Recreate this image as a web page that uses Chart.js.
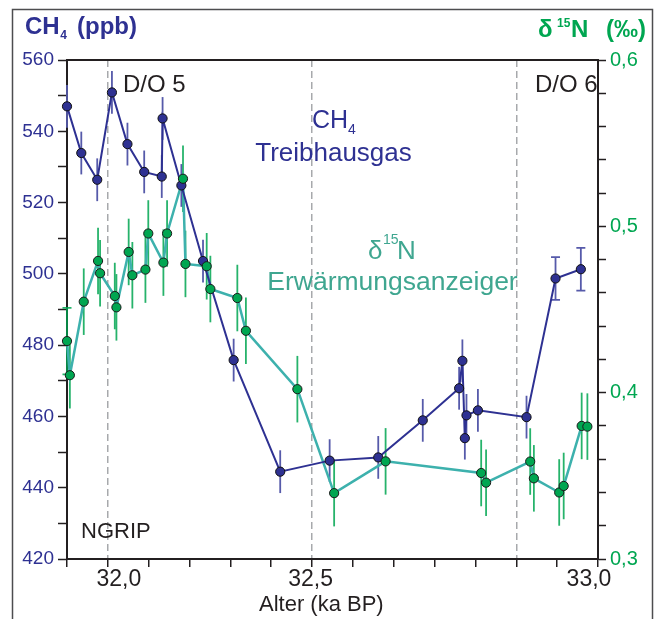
<!DOCTYPE html>
<html><head><meta charset="utf-8">
<script src="https://cdn.jsdelivr.net/npm/chart.js@4/dist/chart.umd.min.js"></script>
<style>html,body{margin:0;padding:0;background:#fff}canvas{display:block}</style>
</head><body>
<canvas id="c" width="654" height="619" style="width:654px;height:619px"></canvas>
<script>
// ---- data (age in ka BP) ----
const ch4Age = [31.900, 31.935, 31.974, 32.010, 32.048, 32.089, 32.132, 32.134, 32.180, 32.233, 32.308, 32.422, 32.543, 32.662, 32.771, 32.860, 32.868, 32.874, 32.878, 32.906, 33.025, 33.096, 33.158];
const ch4Val = [547.0, 533.9, 526.4, 550.9, 536.4, 528.6, 527.3, 543.6, 524.8, 503.6, 475.8, 444.5, 447.6, 448.5, 458.9, 467.9, 475.6, 453.9, 460.3, 461.7, 459.8, 498.7, 501.3];
const ch4Err = [6, 6, 6, 6, 6, 6, 6, 6, 6, 6, 6, 6, 6, 6, 6, 6, 6, 6, 6, 6, 6, 6, 6];
const ch4Cap = [false, false, false, false, false, false, false, false, false, false, false, false, false, false, false, false, false, false, false, false, false, true, true];

const d15NAge = [31.900, 31.907, 31.941, 31.976, 31.981, 32.017, 32.021, 32.051, 32.060, 32.092, 32.099, 32.136, 32.145, 32.184, 32.190, 32.242, 32.251, 32.317, 32.338, 32.464, 32.554, 32.680, 32.914, 32.926, 33.034, 33.043, 33.105, 33.116, 33.160, 33.174];
const d15NVal = [0.431, 0.4105, 0.4547, 0.4792, 0.4718, 0.4581, 0.4513, 0.4846, 0.4706, 0.474, 0.4957, 0.4782, 0.4957, 0.5286, 0.4774, 0.476, 0.4623, 0.4569, 0.4372, 0.4021, 0.3396, 0.3587, 0.3517, 0.3459, 0.3586, 0.3485, 0.340, 0.3439, 0.380, 0.3796];
const d15NErr = [0.02, 0.02, 0.02, 0.02, 0.02, 0.02, 0.02, 0.02, 0.02, 0.02, 0.02, 0.02, 0.02, 0.02, 0.02, 0.02, 0.02, 0.02, 0.02, 0.02, 0.02, 0.02, 0.02, 0.02, 0.02, 0.02, 0.02, 0.02, 0.02, 0.02];
const d15NCap = [true, false, false, false, false, false, false, false, false, false, false, false, false, false, false, false, false, false, false, false, false, false, false, false, false, false, false, false, false, false];

// ---- ticks ----
const xTicks = [31.9, 32.0, 32.1, 32.2, 32.3, 32.4, 32.5, 32.6, 32.7, 32.8, 32.9, 33.0, 33.1, 33.2];
const xTickLabels = ['', '32,0', '', '', '', '', '32,5', '', '', '', '', '', '', '33,0'];
const eventLines = [32.0, 32.5, 33.0];
const ch4Ticks = [420, 430, 440, 450, 460, 470, 480, 490, 500, 510, 520, 530, 540, 550, 560];
const ch4TickLabels = ['420', '', '440', '', '460', '', '480', '', '500', '', '520', '', '540', '', '560'];
const d15NTicks = [0.30, 0.32, 0.34, 0.36, 0.38, 0.40, 0.42, 0.44, 0.46, 0.48, 0.50, 0.52, 0.54, 0.56, 0.58, 0.60];
const d15NTickLabels = ['0,3', '', '', '', '', '0,4', '', '', '', '', '0,5', '', '', '', '', '0,6'];

// ---- style ----
const FONT = '"Liberation Sans", Arial, Helvetica, sans-serif';
const NAVY = '#2E3192';
const GREEN = '#00A651';
const TEAL_LINE = '#3DB1AD';
const TEAL_TEXT = '#3FA690';
const INK = '#231F20';
const xLabelNudge = {1: 11, 6: -1.5, 13: -9};

function pts(xs, ys) { return xs.map((x, i) => ({x: x, y: ys[i]})); }

function errBars(ctx, xs, ys, es, caps, xs_, ys_, color, w) {
  ctx.save();
  ctx.strokeStyle = color; ctx.lineWidth = w;
  for (let i = 0; i < xs.length; i++) {
    const px = xs_.getPixelForValue(xs[i]);
    const p1 = ys_.getPixelForValue(ys[i] + es[i]);
    const p2 = ys_.getPixelForValue(ys[i] - es[i]);
    ctx.beginPath(); ctx.moveTo(px, p1); ctx.lineTo(px, p2); ctx.stroke();
    if (caps[i]) {
      ctx.beginPath();
      ctx.moveTo(px - 4.5, p1); ctx.lineTo(px + 4.5, p1);
      ctx.moveTo(px - 4.5, p2); ctx.lineTo(px + 4.5, p2);
      ctx.stroke();
    }
  }
  ctx.restore();
}

function txt(ctx, s, x, y, size, color, bold, align) {
  ctx.font = (bold ? 'bold ' : '') + size + 'px ' + FONT;
  ctx.fillStyle = color;
  ctx.textAlign = align || 'left';
  ctx.textBaseline = 'alphabetic';
  ctx.fillText(s, x, y);
  return ctx.measureText(s).width;
}

const deco = {
  id: 'deco',
  beforeDraw(chart) {
    const ctx = chart.ctx;
    ctx.save(); ctx.fillStyle = '#fff'; ctx.fillRect(0, 0, chart.width, chart.height); ctx.restore();
  },
  beforeDatasetsDraw(chart) {
    const ctx = chart.ctx, s = chart.scales;
    errBars(ctx, ch4Age, ch4Val, ch4Err, ch4Cap, s.x, s.y, '#565AAA', 1.8);
    errBars(ctx, d15NAge, d15NVal, d15NErr, d15NCap, s.x, s.y2, 'rgba(0,166,81,0.85)', 1.8);
  },
  afterDraw(chart) {
    const ctx = chart.ctx, a = chart.chartArea, s = chart.scales;
    ctx.save();
    // top frame of plot
    ctx.strokeStyle = INK; ctx.lineWidth = 2;
    ctx.beginPath(); ctx.moveTo(a.left, a.top); ctx.lineTo(a.right, a.top); ctx.stroke();
    // outer frame
    ctx.strokeStyle = '#4D4D4F'; ctx.lineWidth = 1.5;
    ctx.strokeRect(12.5, 9.5, 640, 640);
    // x tick labels
    xTicks.forEach((v, i) => {
      if (!xTickLabels[i]) return;
      txt(ctx, xTickLabels[i], s.x.getPixelForValue(v) + (xLabelNudge[i] || 0), 586, 23, INK, false, 'center');
    });
    // axis title
    txt(ctx, 'Alter (ka BP)', 259, 611, 22, INK, false);
    // left axis title
    let w = txt(ctx, 'CH', 25, 33.5, 24, NAVY, true);
    txt(ctx, '4', 25 + w + 0.5, 39, 12, NAVY, true);
    txt(ctx, '(ppb)', 77, 33.5, 24, NAVY, true);
    // right axis title
    txt(ctx, 'δ', 538, 36.5, 24, GREEN, true);
    txt(ctx, '15', 557, 27, 12, GREEN, true);
    txt(ctx, 'N', 571, 36.5, 24, GREEN, true);
    txt(ctx, '(‰)', 606, 36.5, 24, GREEN, true);
    // events
    txt(ctx, 'D/O 5', 123, 92, 24, INK, false);
    txt(ctx, 'D/O 6', 535, 92, 24, INK, false);
    txt(ctx, 'NGRIP', 81, 538, 22, INK, false);
    // series labels
    w = txt(ctx, 'CH', 312, 128, 25, NAVY, false);
    txt(ctx, '4', 312 + w, 134, 14, NAVY, false);
    txt(ctx, 'Treibhausgas', 333.5, 161, 26, NAVY, false, 'center');
    w = txt(ctx, 'δ', 368, 259, 26, TEAL_TEXT, false);
    txt(ctx, '15', 383, 244, 14, TEAL_TEXT, false);
    txt(ctx, 'N', 397, 259, 26, TEAL_TEXT, false);
    txt(ctx, 'Erwärmungsanzeiger', 392.5, 290, 26.5, TEAL_TEXT, false, 'center');
    ctx.restore();
  }
};

const near = (a, b) => Math.abs(a - b) < 1e-6;

new Chart(document.getElementById('c').getContext('2d'), {
  type: 'line',
  data: {
    datasets: [
      { label: 'δ15N', data: pts(d15NAge, d15NVal), yAxisID: 'y2', showLine: false,
        pointRadius: 4.6, pointBackgroundColor: GREEN, pointBorderColor: '#1a1a1a', pointBorderWidth: 1, clip: false },
      { label: 'CH4', data: pts(ch4Age, ch4Val), yAxisID: 'y', borderColor: NAVY, borderWidth: 2,
        pointRadius: 4.6, pointBackgroundColor: NAVY, pointBorderColor: '#111', pointBorderWidth: 1, tension: 0, clip: false },
      { label: 'δ15N line', data: pts(d15NAge, d15NVal), yAxisID: 'y2', borderColor: TEAL_LINE, borderWidth: 2.5,
        pointRadius: 0, tension: 0, clip: false }
    ]
  },
  options: {
    responsive: false, animation: false, devicePixelRatio: 1, events: [],
    layout: { padding: { top: 60, left: 0, right: 0, bottom: 0 } },
    plugins: { legend: { display: false }, tooltip: { enabled: false } },
    scales: {
      x: {
        type: 'linear', min: 31.9, max: 33.2,
        afterBuildTicks: sc => { sc.ticks = xTicks.map(v => ({ value: v })); },
        afterFit: sc => { sc.height = 60; },
        ticks: { autoSkip: false, maxRotation: 0, callback: () => '', font: { family: FONT, size: 23 } },
        grid: {
          drawOnChartArea: true, tickLength: 8, tickColor: INK, tickWidth: 1.5,
          color: c => (c.tick && eventLines.some(e => near(e, c.tick.value))) ? '#A7A9AC' : 'rgba(0,0,0,0)',
          lineWidth: 1.5
        },
        border: { display: true, color: INK, width: 2, dash: [7, 4] }
      },
      y: {
        position: 'left', min: 420, max: 560,
        afterBuildTicks: sc => { sc.ticks = ch4Ticks.map(v => ({ value: v })); },
        afterFit: sc => { sc.width = 67; },
        ticks: { autoSkip: false, callback: (v, i) => ch4TickLabels[i], color: NAVY, font: { family: FONT, size: 19 }, padding: 4 },
        grid: { drawOnChartArea: false, tickLength: 9, tickColor: INK, tickWidth: 1.5 },
        border: { display: true, color: INK, width: 2 }
      },
      y2: {
        position: 'right', min: 0.3, max: 0.6,
        afterBuildTicks: sc => { sc.ticks = d15NTicks.map(v => ({ value: v })); },
        afterFit: sc => { sc.width = 56; },
        ticks: { autoSkip: false, callback: (v, i) => d15NTickLabels[i], color: GREEN, font: { family: FONT, size: 20 }, padding: 4 },
        grid: { drawOnChartArea: false, tickLength: 8, tickColor: INK, tickWidth: 1.5 },
        border: { display: true, color: INK, width: 2 }
      }
    }
  },
  plugins: [deco]
});
</script>
</body></html>
